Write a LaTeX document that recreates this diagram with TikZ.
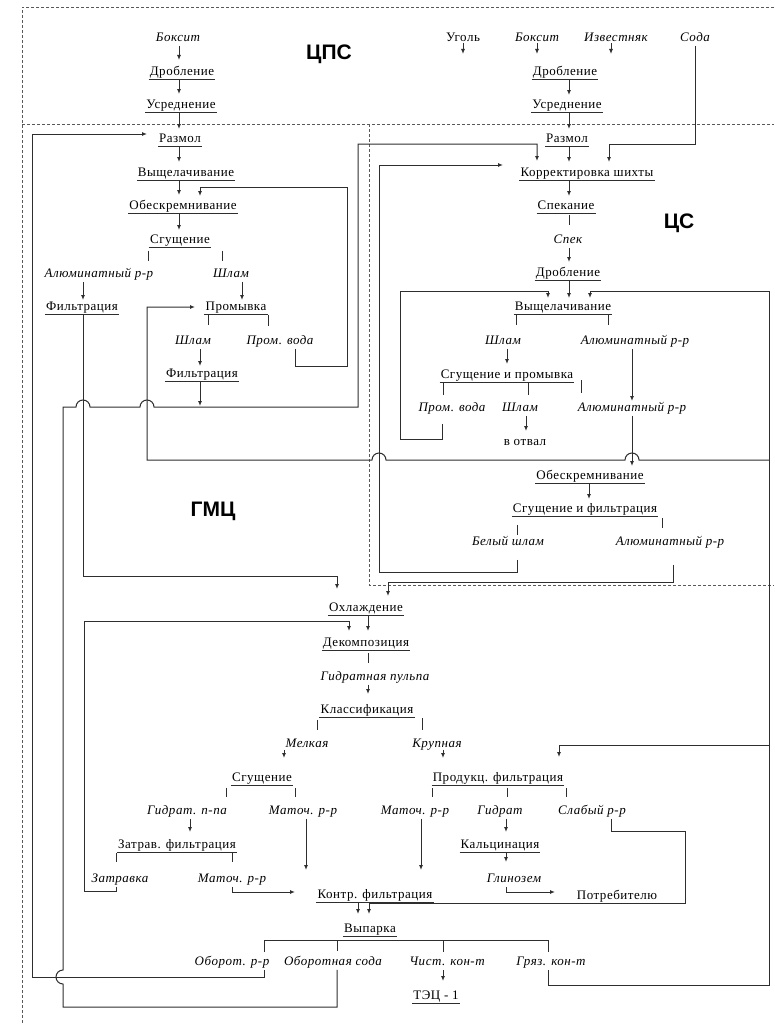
\documentclass[tikz,border=0pt]{standalone}
\usepackage{fontspec}
\setmainfont{Liberation Serif}[LetterSpace=4]
\newfontfamily\sectfont{Liberation Sans}
\usetikzlibrary{arrows.meta}
\definecolor{ln}{gray}{0.18}
\definecolor{brd}{gray}{0.35}
\tikzset{
  x=1pt, y=-1pt,
  lbl/.style={inner xsep=1pt, inner ysep=1pt, text height=8.5pt, text depth=3pt,
              font=\fontsize{13}{15}\selectfont},
  it/.style={lbl, font=\fontsize{13}{15}\selectfont\itshape},
  conn/.style={draw=ln, line width=1pt},
  arr/.style={conn, -{Latex[length=5pt,width=4pt]}},
  proc/.style={lbl, append after command={(\tikzlastnode.south west) edge[conn] (\tikzlastnode.south east)}},
  sect/.style={font=\sectfont\bfseries\fontsize{21}{24}\selectfont},
  border/.style={draw=brd, line width=0.6pt, dash pattern=on 3pt off 2pt}
}
\begin{document}
\begin{tikzpicture}
\useasboundingbox (0,0) rectangle (774,1025);
\fill[white] (0,0) rectangle (774,1025);
% section borders
\draw[border] (774,7) -- (22,7) -- (22,1025);
\draw[border] (22,124) -- (774,124);
\draw[border] (369,124) -- (369,585) -- (774,585);
% ---------- ЦПС ----------
\node[it]   (bx1) at (178,39) {Боксит};
\node[proc] (dr1) at (182,73) {Дробление};
\node[proc] (us1) at (181,106) {Усреднение};
\node[sect] (cps) at (329,54) {ЦПС};
% ---------- ГМЦ upper ----------
\node[proc] (rz1) at (180,140) {Размол};
\node[proc] (vy1) at (186,174) {Выщелачивание};
\node[proc] (ob1) at (183,207) {Обескремнивание};
\node[proc] (sg1) at (180,241) {Сгущение};
\node[it]   (al1) at (99,275) {Алюминатный р-р};
\node[it]   (sh1) at (231,275) {Шлам};
\node[proc] (fi1) at (82,308) {Фильтрация};
\node[proc] (pr1) at (236,308) {Промывка};
\node[it]   (sh2) at (193,342) {Шлам};
\node[it]   (pv1) at (280,342) {Пром. вода};
\node[proc] (fi2) at (202,375) {Фильтрация};
\node[sect] (gmc) at (213,511) {ГМЦ};
% ---------- ЦС ----------
\node[lbl]  (c1) at (463,39) {Уголь};
\node[it]   (c2) at (537,39) {Боксит};
\node[it]   (c3) at (616,39) {Известняк};
\node[it]   (c4) at (695,39) {Сода};
\node[proc] (c5) at (565,73) {Дробление};
\node[proc] (c6) at (567,106) {Усреднение};
\node[proc] (c7) at (567,140) {Размол};
\node[proc] (c8) at (587,174) {Корректировка шихты};
\node[proc] (c9) at (566,207) {Спекание};
\node[it]   (c10) at (568,241) {Спек};
\node[proc] (c11) at (568,274) {Дробление};
\node[sect] (cs) at (679,223) {ЦС};
\node[proc] (c12) at (563,308) {Выщелачивание};
\node[it]   (c13) at (503,342) {Шлам};
\node[it]   (c14) at (635,342) {Алюминатный р-р};
\node[proc] (c15) at (507,376) {Сгущение и промывка};
\node[it]   (c16) at (452,409) {Пром. вода};
\node[it]   (c17) at (520,409) {Шлам};
\node[it]   (c18) at (632,409) {Алюминатный р-р};
\node[lbl]  (c19) at (525,443) {в отвал};
\node[proc] (c20) at (590,477) {Обескремнивание};
\node[proc] (c21) at (585,510) {Сгущение и фильтрация};
\node[it]   (c22) at (508,543) {Белый шлам};
\node[it]   (c23) at (670,543) {Алюминатный р-р};
% ---------- lower ГМЦ ----------
\node[proc] (g1) at (366,609) {Охлаждение};
\node[proc] (g2) at (366,644) {Декомпозиция};
\node[it]   (g3) at (375,678) {Гидратная пульпа};
\node[proc] (g4) at (367,711) {Классификация};
\node[it]   (g5) at (307,745) {Мелкая};
\node[it]   (g6) at (437,745) {Крупная};
\node[proc] (g7) at (262,779) {Сгущение};
\node[proc] (g8) at (498,779) {Продукц. фильтрация};
\node[it]   (g9) at (187,812) {Гидрат. п-па};
\node[it]   (g10) at (303,812) {Маточ. р-р};
\node[it]   (g11) at (415,812) {Маточ. р-р};
\node[it]   (g12) at (500,812) {Гидрат};
\node[it]   (g13) at (592,812) {Слабый р-р};
\node[proc] (g14) at (177,846) {Затрав. фильтрация};
\node[proc] (g15) at (500,846) {Кальцинация};
\node[it]   (g16) at (120,880) {Затравка};
\node[it]   (g17) at (232,880) {Маточ. р-р};
\node[it]   (g18) at (514,880) {Глинозем};
\node[proc] (g19) at (375,896) {Контр. фильтрация};
\node[lbl]  (g20) at (617,897) {Потребителю};
\node[proc] (g21) at (370,930) {Выпарка};
\node[it]   (g22) at (232,963) {Оборот. р-р};
\node[it]   (g23) at (333,963) {Оборотная сода};
\node[it]   (g24) at (447,963) {Чист. кон-т};
\node[it]   (g25) at (551,963) {Гряз. кон-т};
\node[proc] (g26) at (436,997) {ТЭЦ - 1};
% ================= connectors =================
% ЦПС / ГМЦ main line
\draw[arr] (bx1.south -| 179,0) -- (179,60);
\draw[arr] (dr1.south -| 179,0) -- (179,94);
\draw[arr] (us1.south -| 179,0) -- (179,129);
\draw[arr] (rz1.south -| 179,0) -- (179,162);
\draw[arr] (vy1.south -| 179,0) -- (179,195);
\draw[arr] (ob1.south -| 179,0) -- (179,230);
\draw[conn] (sg1.south -| 148,0) ++(0,3) -- ++(0,10);
\draw[conn] (sg1.south -| 222,0) ++(0,3) -- ++(0,10);
\draw[arr] (al1.south -| 83,0) -- (83,300);
\draw[arr] (sh1.south -| 242,0) -- (242,300);
\draw[conn] (pr1.south -| 208,0) -- ++(0,10);
\draw[conn] (pr1.south -| 268,0) -- ++(0,11);
\draw[arr] (sh2.south -| 200,0) -- (200,366);
\draw[arr] (fi2.south -| 200,0) -- (200,406);
% wash water back to desilication
\draw[arr] (pv1.south -| 295,0) |- (347,366) -- (347,187) -| (200,196);
% circulating liquor back to grinding
\draw[arr] (g22.south -| 264,0) |- (32,977) -- (32,134) -- (147,134);
% circulating soda to charge correction (with bridges)
\draw[arr] (g23.south -| 337,0) -- (337,1007) -- (63,1007) -- (63,984)
  arc[start angle=270, end angle=90, radius=7pt] -- (63,407) -- (76,407)
  arc[start angle=180, end angle=0, radius=7pt] -- (140,407)
  arc[start angle=180, end angle=0, radius=7pt] -- (358,407) -- (358,144) -- (537,144) -- (537,161);
% aluminate filtration to cooling
\draw[arr] (fi1.south -| 83,0) -- (83,576) -| (337,589);
% white mud to charge correction
\draw[arr] (c22.south -| 517,0) ++(0,10) |- (379,572) -- (379,165) -- (503,165);
% dirty condensate
\draw[arr] (g25.south -| 548,0) |- (769,985) -- (769,291) -| (590,298);
\draw[arr] (769,745) -| (559,757);
\draw[arr] (769,460) -- (639,460) arc[start angle=0, end angle=180, radius=7pt]
  -- (386,460) arc[start angle=0, end angle=180, radius=7pt] -- (147,460) -- (147,307) -- (195,307);
% ЦС
\draw[arr] (c1.south -| 463,0) ++(0,-3) -- (463,54);
\draw[arr] (c2.south -| 537,0) ++(0,-3) -- (537,54);
\draw[arr] (c3.south -| 611,0) ++(0,-3) -- (611,54);
\draw[arr] (c4.south -| 695,0) -- (695,144) -| (609,162);
\draw[arr] (c5.south -| 569,0) -- (569,95);
\draw[arr] (c6.south -| 569,0) -- (569,129);
\draw[arr] (c7.south -| 569,0) -- (569,162);
\draw[arr] (c8.south -| 569,0) -- (569,196);
\draw[conn] (c9.south -| 569,0) ++(0,1) -- (569,225);
\draw[arr] (c10.south -| 569,0) -- (569,262);
\draw[arr] (c11.south -| 569,0) -- (569,298);
\draw[arr] (c16.south -| 442,0) ++(0,8) |- (400,439) -- (400,291) -| (548,298);
\draw[conn] (c12.south -| 516,0) -- ++(0,10);
\draw[conn] (c12.south -| 608,0) -- ++(0,10);
\draw[arr] (c13.south -| 507,0) -- (507,364);
\draw[arr] (c14.south -| 632,0) -- (632,401);
\draw[conn] (c15.south -| 443,0) -- (443,395);
\draw[conn] (c15.south -| 528,0) -- (528,395);
\draw[conn] (581,380) -- (581,393);
\draw[arr] (c17.south -| 526,0) -- (526,431);
\draw[arr] (c18.south -| 632,0) -- (632,466);
\draw[arr] (c20.south -| 589,0) -- (589,499);
\draw[conn] (c21.south -| 517,0) ++(0,8) -- ++(0,10);
\draw[conn] (c21.south -| 662,0) ++(0,1) -- ++(0,10);
\draw[arr] (c23.south -| 673,0) ++(0,15) |- (388,582) -- (388,596);
% lower ГМЦ
\draw[arr] (g1.south -| 368,0) -- (368,631);
\draw[arr] (g16.south -| 116,0) |- (84,891) -- (84,621) -| (349,631);
\draw[conn] (g2.south -| 368,0) ++(0,2) -- (368,663);
\draw[arr] (g3.south -| 368,0) -- (368,694);
\draw[conn] (g4.south -| 317,0) ++(0,2) -- (317,730);
\draw[conn] (g4.south -| 422,0) -- (422,730);
\draw[arr] (g5.south -| 284,0) ++(0,-2) -- (284,758);
\draw[arr] (g6.south -| 443,0) ++(0,-2) -- (443,758);
\draw[conn] (g7.south -| 226,0) ++(0,2) -- (226,797);
\draw[conn] (g7.south -| 295,0) ++(0,2) -- (295,797);
\draw[conn] (g8.south -| 432,0) ++(0,2) -- (432,797);
\draw[conn] (g8.south -| 507,0) ++(0,2) -- (507,797);
\draw[conn] (g8.south -| 566,0) ++(0,2) -- (566,797);
\draw[arr] (g9.south -| 190,0) -- (190,832);
\draw[arr] (g10.south -| 306,0) -- (306,870);
\draw[arr] (g11.south -| 421,0) -- (421,870);
\draw[arr] (g12.south -| 506,0) -- (506,832);
\draw[arr] (g13.south -| 611,0) -- (611,831) -- (685,831) -- (685,903) -- (369,903) -- (369,914);
\draw[conn] (g14.south -| 116,0) -- (116,862);
\draw[conn] (g14.south -| 232,0) -- (232,862);
\draw[arr] (g15.south -| 506,0) -- (506,862);
\draw[arr] (g17.south -| 232,0) |- (295,892);
\draw[arr] (g18.south -| 506,0) |- (555,892);
\draw[arr] (g19.south -| 358,0) -- (358,914);
\draw[conn] (264,952) -- (264,940) -- (548,940) -- (548,952);
\draw[conn] (337,940) -- (337,951);
\draw[conn] (443,940) -- (443,952);
\draw[arr] (g24.south -| 443,0) -- (443,981);
\end{tikzpicture}
\end{document}
